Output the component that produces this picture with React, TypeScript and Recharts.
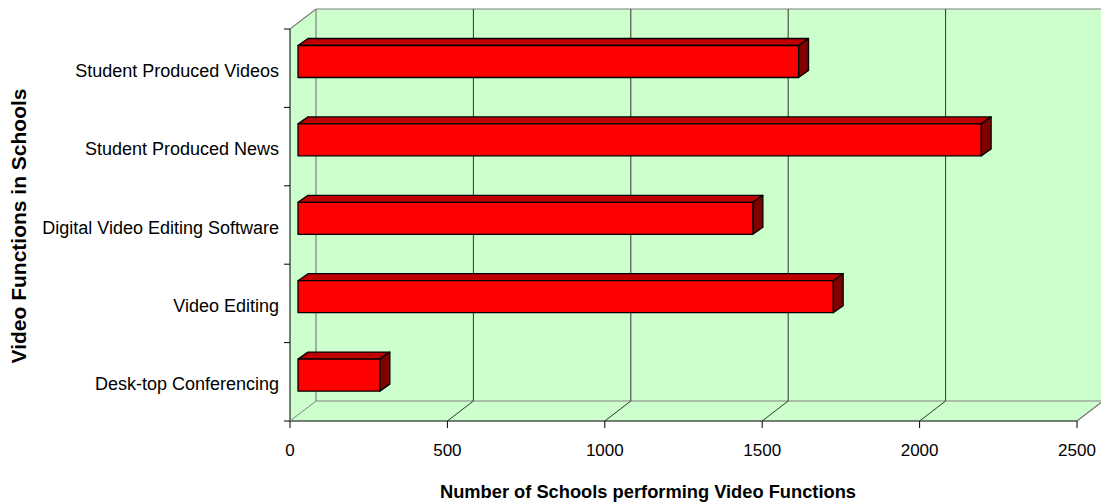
import { BarChart, Bar, XAxis, YAxis, CartesianGrid } from "recharts";

// values
const categories = [
  "Student Produced Videos",
  "Student Produced News",
  "Digital Video Editing Software",
  "Video Editing",
  "Desk-top Conferencing",
];
const schoolCounts = [1590, 2170, 1445, 1700, 260];
const xTicks = [0, 500, 1000, 1500, 2000, 2500];

const data = categories.map((name, i) => ({ name, value: schoolCounts[i] }));

// layout
const W = 1101;
const H = 504;
const LEFT = 290;
const TOP = 29;
const RIGHT = 24;
const X_AXIS_H = 83;
const PLOT_W = W - LEFT - RIGHT;
const PLOT_H = H - TOP - X_AXIS_H;
const DEPTH_X = 26; // 3d wall depth
const DEPTH_Y = 20;
const X_TICK_SIZE = 7;
const X_TICK_MARGIN = 16;
const Y_TICK_SIZE = 6;
const Y_TICK_MARGIN = 5;

const WALL = "#CCFFCC";
const EDGE = "#808080";
const GRID = "#333333";
const FONT = "'Liberation Sans', Arial, sans-serif";

// bar front sits a bit inside the box, the top/side faces go further back
const BAR_SHIFT_X = 8;
const BAR_SHIFT_Y = -6.5;
const BAR_DX = 10;
const BAR_DY = 7;

const Bar3D = (props: any) => {
  const { x, y, width, height } = props;
  if (width == null || height == null) return null;
  const fx = x + BAR_SHIFT_X;
  const fy = y + BAR_SHIFT_Y;
  const r = fx + width;
  const b = fy + height;
  return (
    <g stroke="#000" strokeWidth={1.3} strokeLinejoin="round">
      <polygon
        points={`${fx},${fy} ${fx + BAR_DX},${fy - BAR_DY} ${r + BAR_DX},${fy - BAR_DY} ${r},${fy}`}
        fill="#C00000"
      />
      <polygon
        points={`${r},${fy} ${r + BAR_DX},${fy - BAR_DY} ${r + BAR_DX},${b - BAR_DY} ${r},${b}`}
        fill="#800000"
      />
      <rect x={fx} y={fy} width={width} height={height} fill="#FF0000" />
    </g>
  );
};

const ValueTick = (props: any) => {
  const { x, y, payload, index, visibleTicksCount } = props;
  const axisY = y - X_TICK_SIZE - X_TICK_MARGIN;
  const edge = index === 0 || index === visibleTicksCount - 1;
  return (
    <g>
      <line x1={x} y1={axisY} x2={x + DEPTH_X} y2={axisY - DEPTH_Y} stroke={edge ? EDGE : GRID} strokeWidth={1} />
      <text x={x} y={axisY + 35} textAnchor="middle" fontSize={17} fontFamily={FONT} fill="#000">
        {payload.value}
      </text>
    </g>
  );
};

const CategoryTick = (props: any) => {
  const { x, y, payload, index, visibleTicksCount } = props;
  const half = payload?.offset || PLOT_H / (visibleTicksCount || categories.length) / 2;
  const axisX = x + Y_TICK_SIZE + Y_TICK_MARGIN;
  return (
    <g>
      <line x1={axisX - 6} y1={y - half} x2={axisX} y2={y - half} stroke="#000" />
      {index === visibleTicksCount - 1 && (
        <line x1={axisX - 6} y1={y + half} x2={axisX} y2={y + half} stroke="#000" />
      )}
      <text x={x} y={y + 8.5} textAnchor="end" fontSize={18} fontFamily={FONT} fill="#000">
        {payload.value}
      </text>
    </g>
  );
};

// back wall grid lines: the axis scale pushed back by the wall depth
const backGrid = ({ xAxis, offset }: any) => {
  const s = xAxis?.scale;
  return xTicks.slice(1, -1).map((v) => {
    const px =
      typeof s === "function" ? s(v) : s?.map ? s.map(v) : offset.left + (v / 2500) * offset.width;
    return px + DEPTH_X;
  });
};

const Frame = () => {
  const bx = LEFT + DEPTH_X;
  const by = TOP - DEPTH_Y;
  const fb = TOP + PLOT_H;
  const bb = fb - DEPTH_Y;
  const fr = LEFT + PLOT_W;
  return (
    <svg width={W} height={H} style={{ position: "absolute", left: 0, top: 0 }}>
      <polygon
        points={`${LEFT},${TOP} ${bx},${by} ${W + 5},${by} ${W + 5},${bb} ${fr + DEPTH_X},${bb} ${fr},${fb} ${LEFT},${fb}`}
        fill={WALL}
      />
      <g stroke={EDGE} strokeWidth={1.2} fill="none">
        <line x1={LEFT} y1={TOP} x2={bx} y2={by} />
        <line x1={bx} y1={by} x2={W} y2={by} />
        <line x1={bx} y1={by} x2={bx} y2={bb} />
        <line x1={bx} y1={bb} x2={W} y2={bb} />
        <line x1={fr} y1={fb} x2={fr + DEPTH_X} y2={bb} />
      </g>
      <text
        x={648}
        y={498}
        textAnchor="middle"
        fontSize={18.3}
        fontWeight="bold"
        fontFamily={FONT}
        fill="#000"
      >
        Number of Schools performing Video Functions
      </text>
      <text
        x={0}
        y={0}
        transform="translate(26,226) rotate(-90)"
        textAnchor="middle"
        fontSize={21}
        fontWeight="bold"
        fontFamily={FONT}
        fill="#000"
      >
        Video Functions in Schools
      </text>
    </svg>
  );
};

export default function App() {
  return (
    <div style={{ position: "absolute", left: 0, top: 0, width: W, height: H, background: "#fff" }}>
      <Frame />
      <div style={{ position: "absolute", left: 0, top: 0 }}>
        <BarChart
          width={W}
          height={H}
          data={data}
          layout="vertical"
          margin={{ top: TOP, right: RIGHT, bottom: 0, left: 0 }}
          barCategoryGap={0}
        >
          <CartesianGrid
            x={LEFT + DEPTH_X}
            y={TOP - DEPTH_Y}
            width={PLOT_W}
            height={PLOT_H}
            horizontal={false}
            verticalCoordinatesGenerator={backGrid}
            stroke={GRID}
            strokeDasharray=""
          />
          <XAxis
            type="number"
            domain={[0, 2500]}
            ticks={xTicks}
            interval={0}
            height={X_AXIS_H}
            axisLine={{ stroke: "#000" }}
            tickLine={{ stroke: "#000" }}
            tickSize={X_TICK_SIZE}
            tickMargin={X_TICK_MARGIN}
            tick={<ValueTick />}
          />
          <YAxis
            type="category"
            dataKey="name"
            width={LEFT}
            axisLine={{ stroke: "#000" }}
            tickLine={false}
            tickSize={Y_TICK_SIZE}
            tickMargin={Y_TICK_MARGIN}
            interval={0}
            tick={<CategoryTick />}
          />
          <Bar dataKey="value" barSize={32} isAnimationActive={false} shape={(p: any) => <Bar3D {...p} />} />
        </BarChart>
      </div>
    </div>
  );
}
